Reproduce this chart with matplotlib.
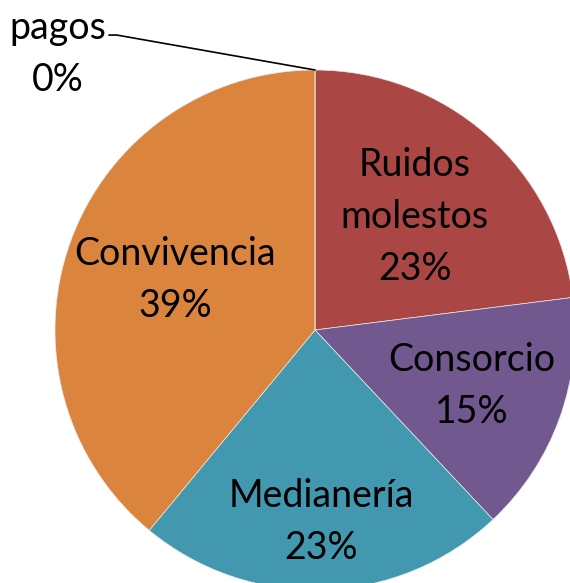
import numpy as np
import matplotlib
matplotlib.use("Agg")
import matplotlib.pyplot as plt

# datos del grafico (porcentajes)
categorias = ["Ruidos\nmolestos", "Consorcio", "Medianería", "Convivencia", "pagos"]
valores = [23, 15, 23, 39, 0]
colores = ["#AA4643", "#71588F", "#4198AF", "#DB843D", "#4572A7"]

plt.rcParams['font.family'] = ['Lato', 'DejaVu Sans']

fig = plt.figure(figsize=(5.70, 5.83), dpi=100)
# eje cuadrado de 520 px, centro del pastel en (315, 330) px
ax = fig.add_axes([55/570., (583-590)/583., 520/570., 520/583.])
wedges, _ = ax.pie(valores, colors=colores, startangle=90, counterclock=False,
                   radius=1.0, wedgeprops=dict(linewidth=0.5, edgecolor='#e8e8e8'))
ax.set_xlim(-1, 1)
ax.set_ylim(-1, 1)
ax.set_aspect('auto')
ax.axis('off')

total = float(sum(valores))
dist = [0.58, 0.64, 0.74, 0.57]  # distancia de etiquetas (best fit)
for i, w in enumerate(wedges[:4]):
    ang = np.deg2rad((w.theta1 + w.theta2) / 2.)
    x, y = dist[i]*np.cos(ang), dist[i]*np.sin(ang)
    txt = "%s\n%d%%" % (categorias[i], round(valores[i]/total*100))
    ax.text(x, y, txt, ha='center', va='center', fontsize=27, linespacing=1.55)

# etiqueta de la porcion de 0% con linea guia
ax.annotate("%s\n%d%%" % (categorias[4], round(valores[4]/total*100)),
            xy=(0, 1), xytext=(-0.99, 1.06), xycoords='data', textcoords='data',
            ha='center', va='center', fontsize=27, linespacing=1.55,
            annotation_clip=False,
            arrowprops=dict(arrowstyle='-', color='black', lw=1.2,
                            connectionstyle='angle,angleA=0,angleB=170,rad=0',
                            shrinkA=0, shrinkB=0, relpos=(1.03, 0.72)))

fig.savefig("out.png", dpi=100)
